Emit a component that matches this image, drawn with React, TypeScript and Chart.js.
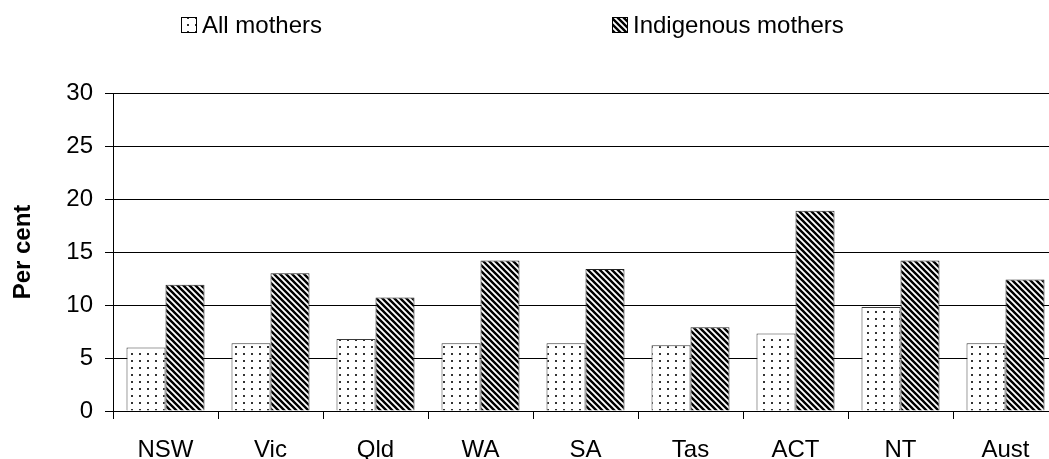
import { useEffect, useRef } from "react";
import { Chart, registerables } from "chart.js";

Chart.register(...registerables);

const categories = ["NSW", "Vic", "Qld", "WA", "SA", "Tas", "ACT", "NT", "Aust"];
const allMothers = [6.0, 6.4, 6.8, 6.4, 6.4, 6.2, 7.3, 9.8, 6.4];
const indigenousMothers = [11.9, 13.0, 10.7, 14.2, 13.4, 7.9, 18.9, 14.2, 12.4];
const seriesLabels = ["All mothers", "Indigenous mothers"];
const yAxisTitle = "Per cent";
const yMin = 0;
const yMax = 30;
const yStep = 5;

const FONT = '"Liberation Sans", Arial, sans-serif';

function makeDotPattern(ctx: CanvasRenderingContext2D): CanvasPattern | string {
  const c = document.createElement("canvas");
  c.width = 8;
  c.height = 7;
  const g = c.getContext("2d")!;
  g.fillStyle = "#ffffff";
  g.fillRect(0, 0, 8, 7);
  g.fillStyle = "#333333";
  g.fillRect(3, 3, 2, 2);
  return ctx.createPattern(c, "repeat") || "#fff";
}

function makeStripePattern(ctx: CanvasRenderingContext2D): CanvasPattern | string {
  const p = 6;
  const c = document.createElement("canvas");
  c.width = p;
  c.height = p;
  const g = c.getContext("2d")!;
  g.fillStyle = "#ffffff";
  g.fillRect(0, 0, p, p);
  g.strokeStyle = "#000000";
  g.lineWidth = 2.4;
  g.beginPath();
  for (let k = -p; k <= p; k += p) {
    g.moveTo(k - 1, -1);
    g.lineTo(k + p + 1, p + 1);
  }
  g.stroke();
  return ctx.createPattern(c, "repeat") || "#000";
}

export default function App() {
  const ref = useRef<HTMLCanvasElement | null>(null);

  useEffect(() => {
    const canvas = ref.current;
    if (!canvas) return;
    const ctx = canvas.getContext("2d")!;
    const dots = makeDotPattern(ctx);
    const stripes = makeStripePattern(ctx);

    const legendPlugin = {
      id: "customLegend",
      afterDraw(chart: any) {
        const c = chart.ctx as CanvasRenderingContext2D;
        const items = [
          { x: 181, fill: dots, text: seriesLabels[0] },
          { x: 612, fill: stripes, text: seriesLabels[1] },
        ];
        c.save();
        c.font = `24px ${FONT}`;
        c.textBaseline = "middle";
        c.textAlign = "left";
        for (const it of items) {
          c.fillStyle = it.fill as any;
          c.fillRect(it.x, 17, 16, 16);
          c.strokeStyle = "#000";
          c.lineWidth = 1;
          c.strokeRect(it.x + 0.5, 17.5, 15, 15);
          c.fillStyle = "#000";
          c.fillText(it.text, it.x + 21, 26);
        }
        c.restore();
      },
    };

    const chart = new Chart(canvas, {
      type: "bar",
      data: {
        labels: categories,
        datasets: [
          {
            label: seriesLabels[0],
            data: allMothers,
            backgroundColor: dots as any,
            borderColor: "#3a3a3a",
            borderWidth: 1,
            barPercentage: 1,
            categoryPercentage: 0.743,
          },
          {
            label: seriesLabels[1],
            data: indigenousMothers,
            backgroundColor: stripes as any,
            borderColor: "#222222",
            borderWidth: 1,
            barPercentage: 1,
            categoryPercentage: 0.743,
          },
        ],
      },
      options: {
        responsive: false,
        animation: false,
        devicePixelRatio: 1,
        layout: { padding: { top: 93, right: 22, left: 0, bottom: 0 } },
        plugins: {
          legend: { display: false },
          tooltip: { enabled: false },
        },
        scales: {
          x: {
            grid: {
              display: true,
              drawOnChartArea: false,
              drawTicks: true,
              tickLength: 8,
              color: "#000",
              offset: true,
            },
            border: { display: true, color: "#000", width: 1 },
            ticks: {
              color: "#000",
              font: { family: FONT, size: 24 },
              padding: 17,
              autoSkip: false,
              maxRotation: 0,
            },
            afterFit: (scale: any) => {
              scale.height = 48;
            },
          },
          y: {
            min: yMin,
            max: yMax,
            grid: {
              color: "#000",
              lineWidth: 1,
              tickLength: 8,
              drawTicks: true,
            },
            border: { display: true, color: "#000", width: 1 },
            ticks: {
              stepSize: yStep,
              color: "#000",
              font: { family: FONT, size: 24 },
              padding: 12,
            },
            title: {
              display: true,
              text: yAxisTitle,
              color: "#000",
              font: { family: FONT, size: 24, weight: "bold" },
              padding: { top: 9, bottom: 0 },
            },
            afterFit: (scale: any) => {
              scale.width = 113;
            },
          },
        },
      },
      plugins: [legendPlugin],
    });

    return () => chart.destroy();
  }, []);

  return (
    <div
      style={{
        position: "fixed",
        left: 0,
        top: 0,
        width: 1049,
        height: 459,
        overflow: "hidden",
        background: "#fff",
      }}
    >
      <canvas ref={ref} width={1080} height={459} style={{ display: "block", width: 1080, height: 459 }} />
    </div>
  );
}
